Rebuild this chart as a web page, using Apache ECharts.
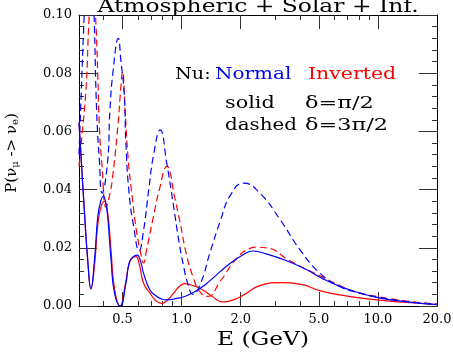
<!DOCTYPE html>
<html>
<head>
<meta charset="utf-8">
<script src="https://cdn.jsdelivr.net/npm/echarts@6/dist/echarts.min.js"></script>
<style>
html,body{margin:0;padding:0;background:#fff;}
#chart{width:454px;height:354px;}
</style>
</head>
<body>
<div id="chart"></div>
<script>
// 数据 (E in GeV, P)
var blueSolidE = [0.30,0.31,0.32,0.333,0.345,0.36,0.374,0.387,0.40,0.41,0.42,0.437,0.455,0.486,0.52,0.54,0.565,0.593,0.62,0.64,0.69,0.74,0.79,0.84,0.945,1.06,1.24,1.40,1.57,1.77,1.99,2.3,2.7,3.5,4.3,5.2,6.3,7.7,10,13.8,20];
var blueSolidP = [0.063,0.047,0.032,0.015,0.006,0.016,0.0307,0.036,0.0378,0.0355,0.0307,0.0158,0.0044,0.0,0.0078,0.0147,0.0168,0.0175,0.015,0.0112,0.0055,0.0035,0.0024,0.0021,0.0026,0.0035,0.006,0.0088,0.0118,0.0147,0.017,0.0189,0.0179,0.0153,0.0126,0.0095,0.0069,0.0049,0.0029,0.0015,0.0005];

var redSolidE = [0.30,0.31,0.32,0.333,0.345,0.36,0.374,0.39,0.405,0.42,0.437,0.455,0.486,0.52,0.54,0.565,0.586,0.61,0.64,0.69,0.74,0.79,0.84,0.91,0.97,1.04,1.12,1.24,1.40,1.62,1.85,2.07,2.5,3.18,4.0,5.1,6.4,8.1,10.3,14,20];
var redSolidP = [0.063,0.047,0.032,0.015,0.0058,0.014,0.028,0.0345,0.036,0.032,0.019,0.006,0.0,0.0085,0.0145,0.0168,0.017,0.014,0.0078,0.0044,0.0018,0.0009,0.0018,0.0044,0.0066,0.0077,0.0072,0.0061,0.0038,0.0014,0.0022,0.0038,0.007,0.008,0.0075,0.0052,0.0038,0.0028,0.002,0.0012,0.0005];

var blueDashE = [0.30,0.306,0.318,0.325,0.338,0.35,0.358,0.369,0.381,0.393,0.42,0.431,0.448,0.476,0.49,0.51,0.52,0.54,0.57,0.607,0.64,0.68,0.72,0.777,0.84,0.908,0.963,1.02,1.08,1.14,1.24,1.40,1.57,1.77,2.07,2.51,3.18,4.02,5.08,6.43,8.13,10.3,14,20];
var blueDashP = [0.052,0.068,0.098,0.112,0.125,0.115,0.100,0.067,0.050,0.0388,0.050,0.067,0.081,0.092,0.0845,0.073,0.056,0.0387,0.0272,0.019,0.026,0.040,0.052,0.0605,0.049,0.0347,0.0233,0.0141,0.0072,0.004,0.0072,0.0187,0.029,0.038,0.0422,0.0387,0.0296,0.0192,0.0112,0.0066,0.0044,0.0029,0.0015,0.0006];

var redDashE = [0.30,0.31,0.326,0.337,0.35,0.364,0.374,0.381,0.393,0.412,0.428,0.445,0.473,0.49,0.50,0.515,0.535,0.56,0.585,0.615,0.64,0.66,0.72,0.77,0.844,0.88,0.905,0.98,1.06,1.15,1.24,1.36,1.57,1.91,2.23,2.42,2.8,3.5,5.2,7.66,10.1,14,20];
var redDashP = [0.048,0.058,0.075,0.098,0.115,0.100,0.079,0.0616,0.048,0.034,0.0376,0.0444,0.0616,0.075,0.0805,0.067,0.050,0.0376,0.027,0.019,0.0148,0.0187,0.031,0.040,0.048,0.045,0.040,0.029,0.0175,0.0095,0.0049,0.0033,0.0084,0.0164,0.0198,0.0202,0.0198,0.0158,0.010,0.0049,0.0032,0.0017,0.0007];

// 刻度
var xLabels = [0.5,1,2,5,10,20];
var xMajorTicks = [0.5,1,2,5,10];
var xMinorTicks = [0.4,0.6,0.7,0.8,0.9,3,4,6,7,8,9];

var fontFam = 'DejaVu Serif';
var blue = '#0000ff';
var red = '#ff0000';
var tickColor = '#333';

function pairs(xs, ys){
    var out = [];
    for (var i = 0; i < xs.length; i++) out.push([xs[i], ys[i]]);
    return out;
}

// 每个轴放在同样位置的独立 grid 里
var grids = [], xAxes = [], yAxes = [];
function hiddenX(){ return {type:'log', logBase:10, min:0.3, max:20, show:false}; }
function hiddenY(){ return {type:'value', min:0, max:0.1, show:false}; }
function addGrid(xa, ya){
    var g = grids.length;
    grids.push({left:79, right:17, top:15, bottom:48, outerBoundsMode:'none'});
    xa.gridIndex = g; ya.gridIndex = g;
    xAxes.push(xa); yAxes.push(ya);
}

function xTicks(pos, ticks, len, showLine){
    return {
        type:'log', logBase:10, min:0.3, max:20, position:pos,
        axisLine:{show:showLine, onZero:false, lineStyle:{color:'#000', width:1}},
        axisTick:{show:true, inside:true, length:len, customValues:ticks, lineStyle:{color:tickColor, width:1}},
        axisLabel:{show:false}, splitLine:{show:false}
    };
}
function yTicks(pos){
    return {
        type:'value', min:0, max:0.1, interval:0.02, position:pos,
        axisLine:{show:true, onZero:false, lineStyle:{color:'#000', width:1}},
        axisTick:{show:true, inside:true, length:18, lineStyle:{color:tickColor, width:1}},
        minorTick:{show:true, splitNumber:5, length:5, lineStyle:{color:tickColor, width:1}},
        axisLabel:{show:false}, splitLine:{show:false}
    };
}
function yLabelAx(){
    return {
        type:'value', min:0, max:0.1, interval:0.02, position:'left',
        axisLine:{show:false, onZero:false}, axisTick:{show:false},
        axisLabel:{show:true, margin:7, color:'#000', fontFamily:fontFam, fontSize:13,
            formatter:function(v){ return v.toFixed(2); }},
        splitLine:{show:false}
    };
}

addGrid(hiddenX(), hiddenY());                          // 0: 曲线
addGrid(xTicks('bottom', xMajorTicks, 14, true), hiddenY());
addGrid(xTicks('bottom', xMinorTicks, 5, false), hiddenY());
addGrid(xTicks('top', xMajorTicks, 14, true), hiddenY());
addGrid(xTicks('top', xMinorTicks, 5, false), hiddenY());
addGrid(hiddenX(), yTicks('left'));
addGrid(hiddenX(), yTicks('right'));
addGrid(hiddenX(), yLabelAx());

function line(data, color, dashed){
    return {
        type:'line', data:data, xAxisIndex:0, yAxisIndex:0,
        smooth:true, showSymbol:false, symbol:'none', clip:true,
        lineStyle:{color:color, width:1.2, type: dashed ? [7,4] : 'solid'},
        silent:true
    };
}

function txt(x, y, s, color, sx){
    return {type:'text', x:x, y:y, scaleX:sx, style:{text:s, fill:color,
        font:'16px "DejaVu Serif"', align:'left', verticalAlign:'middle'}};
}

var myChart = echarts.init(document.getElementById('chart'));
myChart.setOption({
    backgroundColor:'#fff',
    animation:false,
    grid:grids,
    xAxis:xAxes,
    yAxis:yAxes,
    series:[
        line(pairs(redSolidE, redSolidP), red, false),
        line(pairs(redDashE, redDashP), red, true),
        line(pairs(blueSolidE, blueSolidP), blue, false),
        line(pairs(blueDashE, blueDashP), blue, true)
    ]
});

// x轴标签: 位置由对数轴换算
var y0 = myChart.convertToPixel({yAxisIndex:0}, 0);
var graphics = [];
xLabels.forEach(function(v){
    var px = myChart.convertToPixel({xAxisIndex:0}, v);
    graphics.push({type:'text', x:px, y:y0 + 14, style:{text:v.toFixed(1), fill:'#000',
        font:'13px "DejaVu Serif"', align:'center', verticalAlign:'middle'}});
});
graphics.push(
    {type:'text', x:258, y:7, scaleX:1.3, style:{text:'Atmospheric + Solar + Inf.', fill:'#000',
        font:'18px "DejaVu Serif"', align:'center', verticalAlign:'middle'}},
    {type:'text', x:263, y:340, scaleX:1.3, style:{text:'E (GeV)', fill:'#000',
        font:'18px "DejaVu Serif"', align:'center', verticalAlign:'middle'}},
    {type:'text', x:12, y:153, rotation:Math.PI/2, style:{
        text:'P(ν{s|μ} -> ν{s|e})', fill:'#000', font:'15px "DejaVu Serif"',
        align:'center', verticalAlign:'middle',
        rich:{s:{fontSize:10, fontFamily:fontFam, verticalAlign:'bottom', padding:[7,0,0,0]}}}},
    txt(175, 75, 'Nu:', '#000', 1.2),
    txt(215, 75, 'Normal', blue, 1.25),
    txt(308, 75, 'Inverted', red, 1.28),
    txt(225, 104, 'solid', '#000', 1.3),
    txt(305, 104, 'δ=π/2', '#000', 1.4),
    txt(225, 126, 'dashed', '#000', 1.24),
    txt(305, 126, 'δ=3π/2', '#000', 1.4)
);
myChart.setOption({graphic:graphics});

window.addEventListener("resize", function() {
    myChart.resize();
});
</script>
</body>
</html>
